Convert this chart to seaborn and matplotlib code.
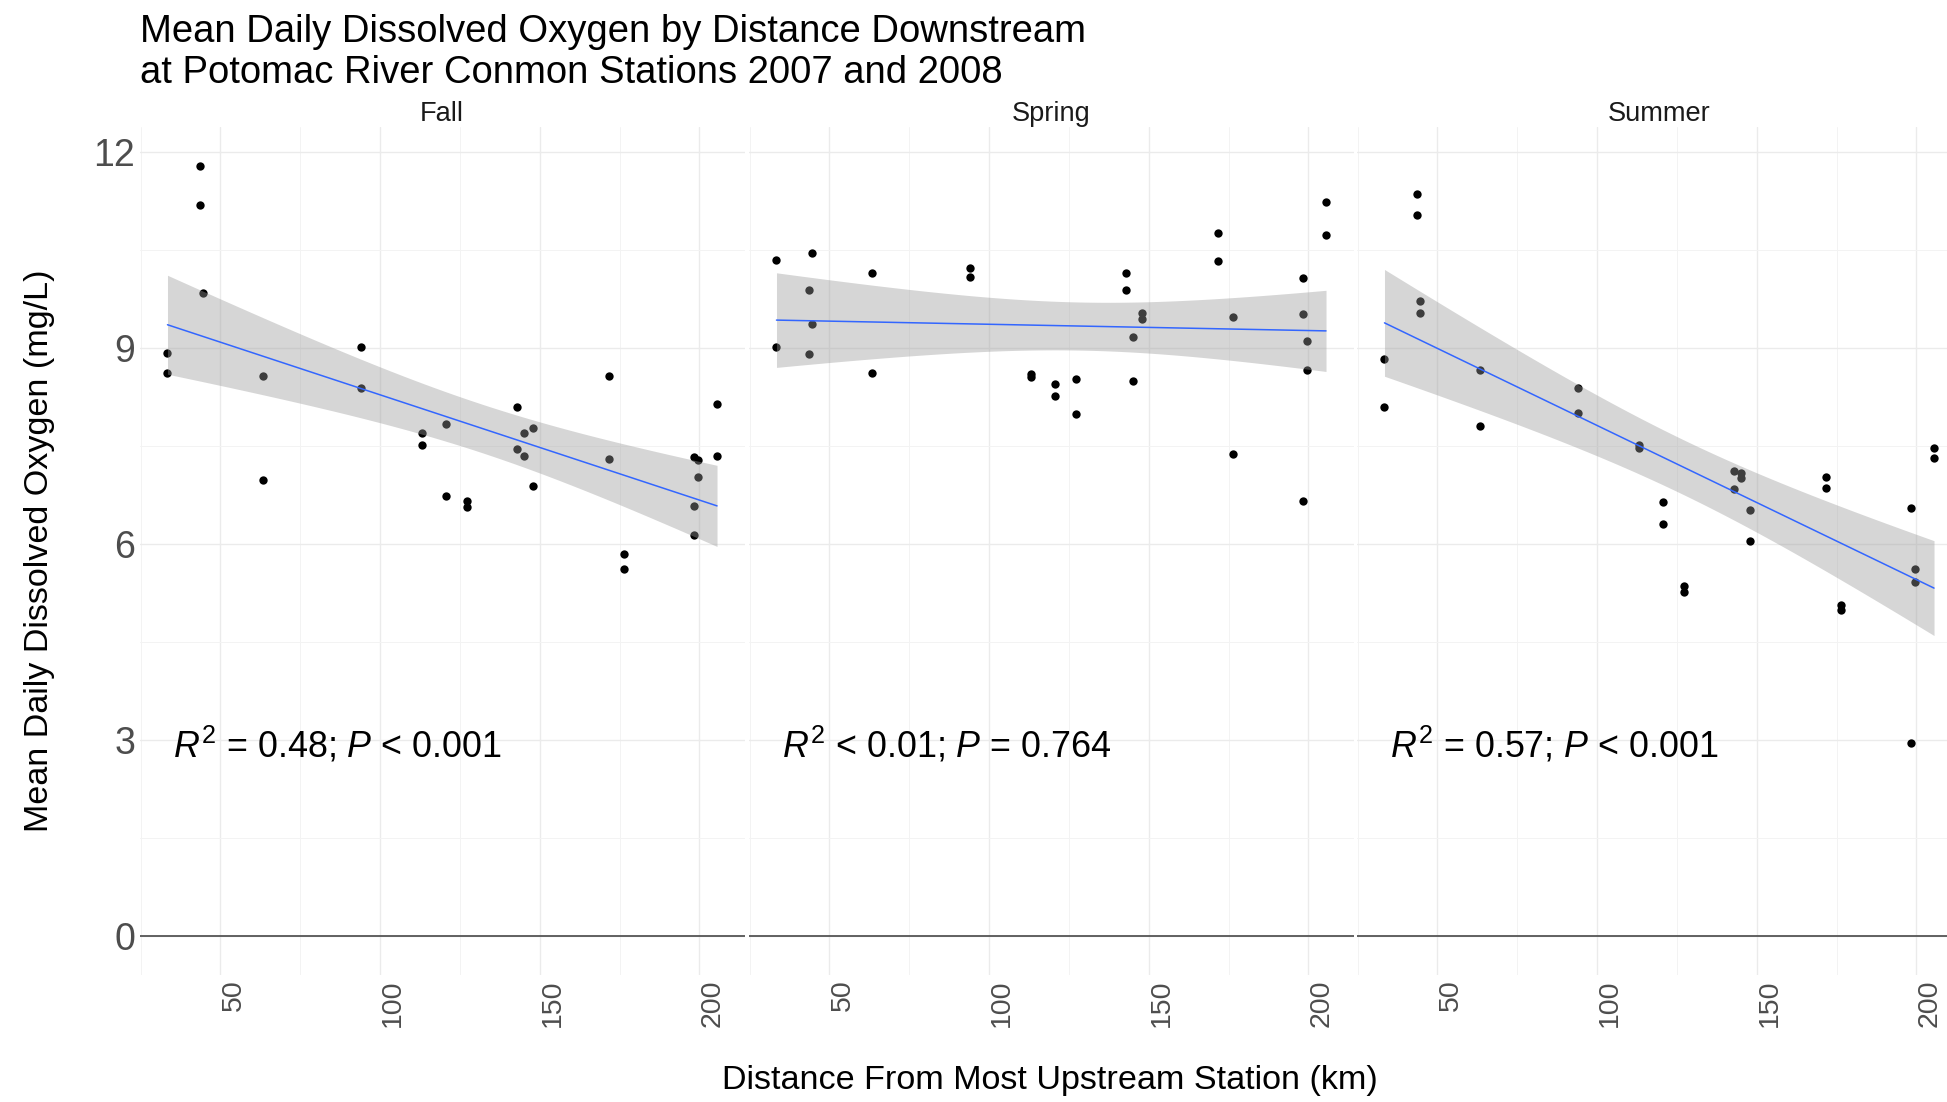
import numpy as np
import pandas as pd
import matplotlib
matplotlib.use("Agg")
import matplotlib.pyplot as plt
import seaborn as sns
from matplotlib.ticker import FixedLocator
from statistics import NormalDist

# ---- data: mean daily DO (mg/L) by distance downstream (km) ----
seasons = ["Fall", "Spring", "Summer"]

fall_km = [33.4, 33.4, 43.5, 43.5, 44.5, 63.3, 63.3, 94.1, 94.1, 113.1, 113.1,
           120.7, 120.7, 127.1, 127.1, 142.8, 142.8, 145.2, 145.2, 148.0, 148.0,
           171.7, 171.7, 176.4, 176.4, 198.3, 199.5, 199.5, 198.3, 198.3, 205.5, 205.5]
fall_do = [8.93, 8.62, 11.80, 11.20, 9.85, 8.58, 6.98, 9.03, 8.40, 7.71, 7.52,
           7.85, 6.74, 6.66, 6.58, 8.10, 7.46, 7.70, 7.36, 7.78, 6.90,
           8.58, 7.31, 5.86, 5.62, 7.34, 7.30, 7.04, 6.59, 6.15, 8.15, 7.36]

spring_km = [33.4, 33.4, 44.5, 43.5, 44.5, 43.5, 63.3, 63.3, 94.1, 94.1, 113.1,
             113.1, 120.7, 120.7, 127.1, 127.1, 142.8, 142.8, 145.2, 145.2, 148.0,
             148.0, 171.7, 171.7, 176.4, 176.4, 198.3, 198.3, 199.5, 199.5, 198.3,
             205.5, 205.5]
spring_do = [10.35, 9.03, 10.46, 9.90, 9.38, 8.91, 10.16, 8.62, 10.23, 10.09, 8.61,
             8.56, 8.45, 8.28, 8.53, 8.00, 10.16, 9.90, 9.18, 8.50, 9.54,
             9.45, 10.77, 10.34, 9.48, 7.39, 10.08, 9.53, 9.12, 8.67, 6.66,
             11.24, 10.74]

summer_km = [33.4, 33.4, 43.5, 43.5, 44.5, 44.5, 63.3, 63.3, 94.1, 94.1, 113.1,
             113.1, 120.7, 120.7, 127.1, 127.1, 142.8, 142.8, 145.2, 145.2, 148.0,
             148.0, 171.7, 171.7, 176.4, 176.4, 198.3, 199.5, 199.5, 198.3, 205.5, 205.5]
summer_do = [8.84, 8.11, 11.36, 11.04, 9.73, 9.54, 8.67, 7.82, 8.40, 8.01, 7.52,
             7.48, 6.65, 6.32, 5.36, 5.27, 7.13, 6.85, 7.09, 7.02, 6.52,
             6.05, 7.03, 6.86, 5.07, 5.00, 6.56, 5.63, 5.42, 2.96, 7.48, 7.33]

fit_labels = [r"$R^2$ = 0.48; $P$ < 0.001",
              r"$R^2$ < 0.01; $P$ = 0.764",
              r"$R^2$ = 0.57; $P$ < 0.001"]

x_breaks = [50, 100, 150, 200]
x_minor = [25, 75, 125, 175, 225]
y_breaks = [0, 3, 6, 9, 12]
y_minor = [1.5, 4.5, 7.5, 10.5]

df = pd.concat([
    pd.DataFrame({"season": s, "km": k, "do": d})
    for s, k, d in zip(seasons, [fall_km, spring_km, summer_km],
                       [fall_do, spring_do, summer_do])
], ignore_index=True)

# ---- style ----
sns.set_theme(style="white")
plt.rcParams["font.family"] = ["Liberation Sans", "DejaVu Sans"]
plt.rcParams["mathtext.fontset"] = "custom"
plt.rcParams["mathtext.rm"] = "Liberation Sans"
plt.rcParams["mathtext.it"] = "Liberation Sans:italic"

W, H = 1947, 1102
fig = plt.figure(figsize=(W / 100, H / 100), dpi=100)
fig.patch.set_facecolor("white")


def t_quantile(df_, p=0.975):
    """Student-t quantile via Cornish-Fisher expansion."""
    z = NormalDist().inv_cdf(p)
    g1 = (z ** 3 + z) / 4
    g2 = (5 * z ** 5 + 16 * z ** 3 + 3 * z) / 96
    g3 = (3 * z ** 7 + 19 * z ** 5 + 17 * z ** 3 - 15 * z) / 384
    return z + g1 / df_ + g2 / df_ ** 2 + g3 / df_ ** 3


# shared limits with 5% padding, y anchored at the zero line
xmin, xmax = df["km"].min(), df["km"].max()
xpad = 0.05 * (xmax - xmin)
xlim = (xmin - xpad, xmax + xpad)
ytop = df["do"].max()
ylim = (0 - 0.05 * ytop, ytop + 0.05 * ytop)

panel_left = [140, 749, 1357]
panel_w = 604.5
panel_top, panel_bot = 127, 975

for i, season in enumerate(seasons):
    ax = fig.add_axes([panel_left[i] / W, 1 - panel_bot / H,
                       panel_w / W, (panel_bot - panel_top) / H])
    sub = df[df["season"] == season]

    ax.axhline(0, color="#555555", lw=1.3, zorder=1.5)

    sns.scatterplot(data=sub, x="km", y="do", color="black", s=36,
                    linewidth=0, ax=ax, zorder=2, legend=False)

    # linear fit with 95% confidence band of the mean
    x = sub["km"].to_numpy()
    y = sub["do"].to_numpy()
    n = len(x)
    b1, b0 = np.polyfit(x, y, 1)
    resid = y - (b0 + b1 * x)
    s_err = np.sqrt(np.sum(resid ** 2) / (n - 2))
    grid = np.linspace(x.min(), x.max(), 80)
    se = s_err * np.sqrt(1 / n + (grid - x.mean()) ** 2 / np.sum((x - x.mean()) ** 2))
    tq = t_quantile(n - 2)
    fit = b0 + b1 * grid
    ax.fill_between(grid, fit - tq * se, fit + tq * se, color="#999999",
                    alpha=0.4, lw=0, zorder=3)
    sns.regplot(data=sub, x="km", y="do", scatter=False, ci=None, truncate=True,
                line_kws=dict(color="#3366FF", lw=1.1, zorder=4), ax=ax)

    ax.annotate(fit_labels[i], xy=(35, 3), xycoords="data",
                xytext=(0, -3.5), textcoords="offset points",
                fontsize=25.8, color="black", ha="left", va="center", zorder=5)

    ax.set_xlim(*xlim)
    ax.set_ylim(*ylim)
    ax.xaxis.set_major_locator(FixedLocator(x_breaks))
    ax.xaxis.set_minor_locator(FixedLocator(x_minor))
    ax.yaxis.set_major_locator(FixedLocator(y_breaks))
    ax.yaxis.set_minor_locator(FixedLocator(y_minor))
    ax.grid(which="major", color="#EBEBEB", lw=1.0, zorder=0)
    ax.grid(which="minor", color="#F3F3F3", lw=0.7, zorder=0)
    ax.set_axisbelow(True)
    for sp in ax.spines.values():
        sp.set_visible(False)
    ax.set_xlabel("")
    ax.set_ylabel("")

    ax.tick_params(axis="both", which="both", length=0)
    ax.tick_params(axis="x", pad=3, labelsize=20.5, labelcolor="#4D4D4D")
    ax.set_xticks(x_breaks)
    ax.set_xticklabels([str(v) for v in x_breaks], rotation=90,
                       ha="left", va="top")
    if i == 0:
        ax.tick_params(axis="y", pad=3.5, labelsize=27, labelcolor="#4D4D4D")
    else:
        ax.tick_params(axis="y", labelleft=False)

    # facet strip label
    ax.annotate(season, xy=(0.5, 1), xycoords="axes fraction",
                xytext=(0, 9.2), textcoords="offset points",
                ha="center", va="center", fontsize=19.6, color="#1A1A1A")

# titles
fig.text(140 / W, 1 - 41.5 / H,
         "Mean Daily Dissolved Oxygen by Distance Downstream",
         ha="left", va="baseline", fontsize=27.5, color="black")
fig.text(140 / W, 1 - 82.6 / H,
         "at Potomac River Conmon Stations 2007 and 2008",
         ha="left", va="baseline", fontsize=27.5, color="black")
fig.text(1050 / W, 1 - 1080.5 / H, "Distance From Most Upstream Station (km)",
         ha="center", va="center", fontsize=24.6, color="black")
fig.text(40 / W, 1 - 551 / H, "Mean Daily Dissolved Oxygen (mg/L)",
         ha="center", va="center", rotation=90, fontsize=24.6, color="black")

fig.savefig("out.png", dpi=100, facecolor="white")
